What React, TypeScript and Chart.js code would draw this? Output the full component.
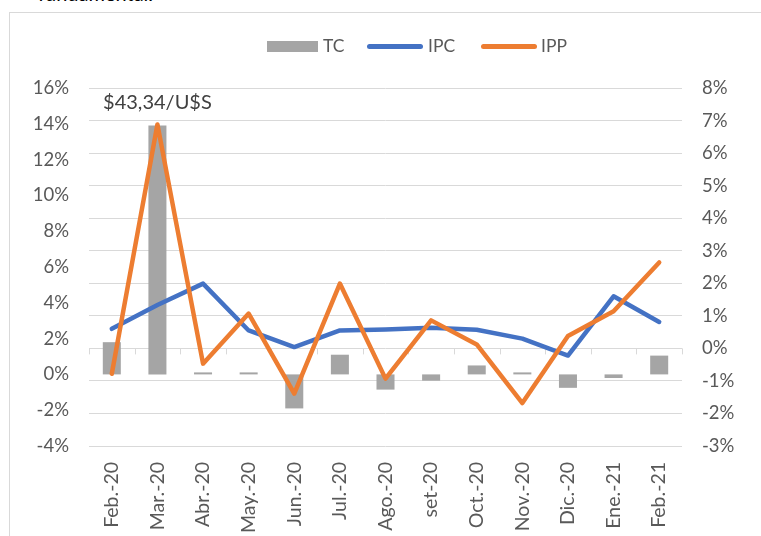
import React, { useEffect, useRef } from "react";
import { Chart, registerables } from "chart.js";

Chart.register(...registerables);

const categories = ["Feb.-20", "Mar.-20", "Abr.-20", "May.-20", "Jun.-20", "Jul.-20", "Ago.-20", "set-20", "Oct.-20", "Nov.-20", "Dic.-20", "Ene.-21", "Feb.-21"];
const tcValues = [1.8, 13.9, 0.1, 0.1, -1.9, 1.1, -0.85, -0.35, 0.5, 0.1, -0.75, -0.2, 1.05];
const ipcValues = [0.6, 1.33, 1.99, 0.55, 0.04, 0.55, 0.58, 0.63, 0.57, 0.3, -0.22, 1.6, 0.81];
const ippValues = [-0.78, 6.88, -0.47, 1.07, -1.39, 1.99, -0.93, 0.86, 0.12, -1.68, 0.38, 1.14, 2.64];
const leftTicks = { min: -4, max: 16, step: 2 };
const rightTicks = { min: -3, max: 8, step: 1 };
const annotationText = "$43,34/U$S";
const annotationIndex = 1;

const FONT = "Lato, 'Noto Sans', sans-serif";
const TICK_COLOR = "#595959";

const extrasPlugin = {
  id: "extras",
  beforeDatasetsDraw(chart: any) {
    const { ctx, chartArea } = chart;
    const y1 = chart.scales.y1;
    const y0 = y1.getPixelForValue(0);
    const n = categories.length;
    const w = (chartArea.right - chartArea.left) / n;
    ctx.save();
    ctx.strokeStyle = "#d9d9d9";
    ctx.lineWidth = 1;
    ctx.beginPath();
    for (let i = 0; i <= n; i++) {
      const x = Math.round(chartArea.left + i * w) + 0.5;
      ctx.moveTo(x, y0);
      ctx.lineTo(x, y0 + 6);
    }
    ctx.stroke();
    ctx.restore();
  },
  afterDraw(chart: any) {
    const { ctx, chartArea } = chart;
    const xs = chart.scales.x;
    ctx.save();
    ctx.font = `20px ${FONT}`;
    ctx.fillStyle = "#404040";
    ctx.textAlign = "center";
    ctx.textBaseline = "alphabetic";
    ctx.fillText(annotationText, xs.getPixelForValue(annotationIndex), chartArea.top + 21);
    ctx.restore();
  },
};

export default function App() {
  const ref = useRef<HTMLCanvasElement>(null);
  useEffect(() => {
    if (!ref.current) return;
    const chart = new Chart(ref.current, {
      type: "bar",
      data: {
        labels: categories,
        datasets: [
          {
            type: "line",
            label: "IPC",
            data: ipcValues,
            yAxisID: "y1",
            borderColor: "#4472c4",
            backgroundColor: "#4472c4",
            borderWidth: 4.5,
            pointRadius: 0,
            borderCapStyle: "round",
            borderJoinStyle: "round",
            tension: 0,
            order: 1,
          } as any,
          {
            type: "line",
            label: "IPP",
            data: ippValues,
            yAxisID: "y1",
            borderColor: "#ed7d31",
            backgroundColor: "#ed7d31",
            borderWidth: 4.5,
            pointRadius: 0,
            borderCapStyle: "round",
            borderJoinStyle: "round",
            tension: 0,
            order: 0,
          } as any,
          {
            type: "bar",
            label: "TC",
            data: tcValues,
            yAxisID: "y",
            backgroundColor: "#a5a5a5",
            categoryPercentage: 1,
            barPercentage: 0.395,
            minBarLength: 2,
            order: 2,
          } as any,
        ],
      },
      options: {
        animation: false,
        responsive: true,
        maintainAspectRatio: false,
        layout: { padding: { top: 88, left: 0, right: 0, bottom: 0 } },
        plugins: { legend: { display: false }, tooltip: { enabled: false } },
        scales: {
          x: {
            type: "category",
            offset: true,
            grid: { display: false, drawTicks: false },
            border: { display: false },
            ticks: {
              minRotation: 90,
              maxRotation: 90,
              autoSkip: false,
              padding: 16,
              color: TICK_COLOR,
              font: { family: FONT, size: 19.5 },
            },
            afterFit(scale: any) {
              scale.height = 90;
            },
          },
          y: {
            position: "left",
            min: leftTicks.min,
            max: leftTicks.max,
            grid: { display: false, drawTicks: false },
            border: { display: false },
            ticks: {
              stepSize: leftTicks.step,
              padding: 20,
              color: TICK_COLOR,
              font: { family: FONT, size: 18.5 },
              callback: (v: any) => `${v}%`,
            },
            afterFit(scale: any) {
              scale.width = 89;
            },
          },
          y1: {
            position: "right",
            min: rightTicks.min,
            max: rightTicks.max,
            grid: { color: "#d9d9d9", lineWidth: 1, drawTicks: false },
            border: { display: false },
            ticks: {
              stepSize: rightTicks.step,
              padding: 20,
              color: TICK_COLOR,
              font: { family: FONT, size: 18.5 },
              callback: (v: any) => `${v}%`,
            },
            afterFit(scale: any) {
              scale.width = 79;
            },
          },
        },
      },
      plugins: [extrasPlugin],
    });
    return () => chart.destroy();
  }, []);

  const legendText: React.CSSProperties = {
    position: "absolute",
    top: 35,
    fontFamily: FONT,
    fontSize: 17.5,
    lineHeight: "22px",
    color: TICK_COLOR,
  };

  return (
    <div style={{ position: "absolute", left: 0, top: 0, width: 761, height: 536, overflow: "hidden", background: "#fff" }}>
      <div style={{ position: "absolute", left: 38, top: -17, fontFamily: FONT, fontSize: 20, lineHeight: "20px", color: "#000" }}>fundamental.</div>
      <div style={{ position: "absolute", left: 9, top: 12, right: -10, bottom: -10, borderLeft: "1.5px solid #d9d9d9", borderTop: "1.5px solid #d9d9d9" }} />
      <div style={{ position: "absolute", left: 0, top: 0, width: 761, height: 536 }}>
        <canvas ref={ref} />
      </div>
      <div style={{ position: "absolute", left: 267, top: 41, width: 51, height: 11, background: "#a5a5a5" }} />
      <div style={{ ...legendText, left: 323 }}>TC</div>
      <div style={{ position: "absolute", left: 367, top: 44, width: 56, height: 5, borderRadius: 3, background: "#4472c4" }} />
      <div style={{ ...legendText, left: 428 }}>IPC</div>
      <div style={{ position: "absolute", left: 481, top: 44, width: 56, height: 5, borderRadius: 3, background: "#ed7d31" }} />
      <div style={{ ...legendText, left: 541 }}>IPP</div>
    </div>
  );
}
